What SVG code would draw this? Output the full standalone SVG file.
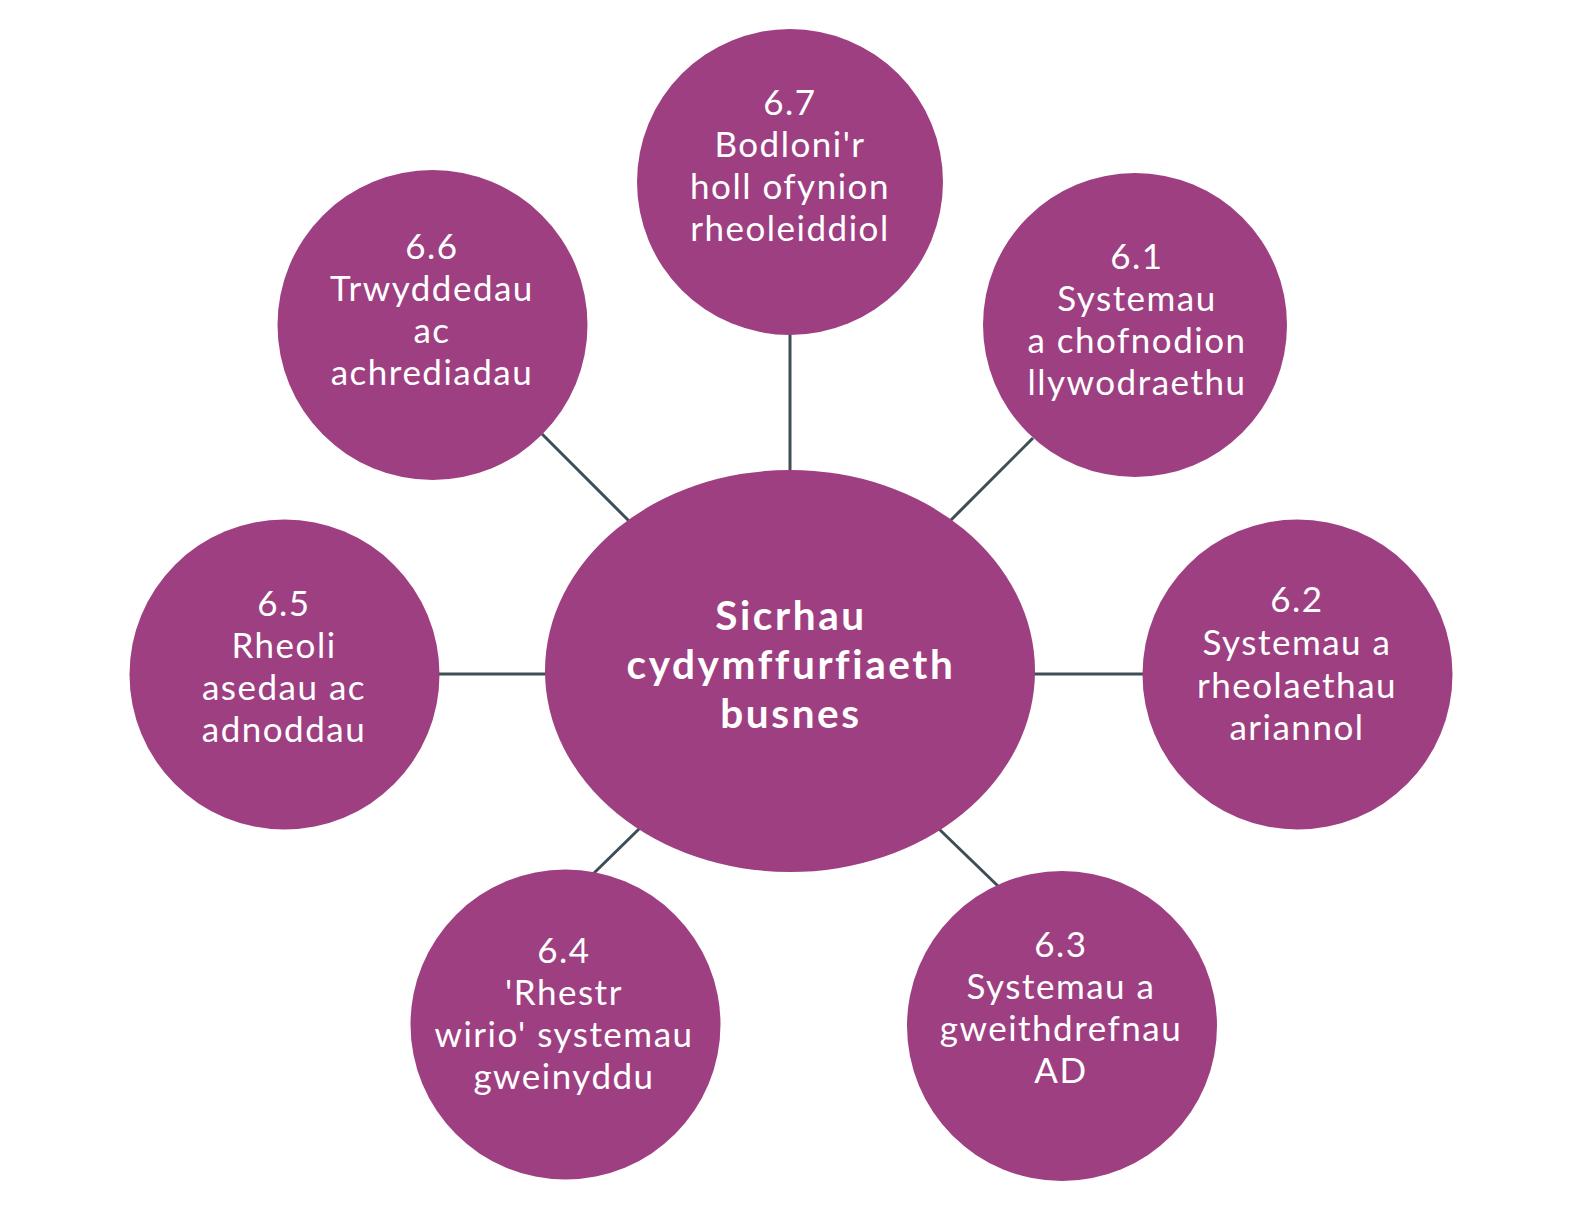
<svg xmlns="http://www.w3.org/2000/svg" width="1571" height="1223" viewBox="0 0 1571 1223">
<style>
.n{fill:#9E3F82}
.t{font-family:Lato,"Open Sans","Liberation Sans",sans-serif;font-size:35px;fill:#fff;text-anchor:middle;letter-spacing:1.5px}
.b{font-family:Lato,"Open Sans","Liberation Sans",sans-serif;font-size:40.5px;font-weight:700;fill:#fff;text-anchor:middle;letter-spacing:2.6px}
.c{stroke:#3E4E57;stroke-width:3;fill:none}
</style>
<rect width="1571" height="1223" fill="#fff"/>
<g id="connectors" class="c">
<line x1="790" y1="334" x2="790" y2="472"/>
<line x1="1033" y1="438" x2="950" y2="521"/>
<line x1="1034" y1="674" x2="1143" y2="674"/>
<line x1="939" y1="829" x2="999" y2="887"/>
<line x1="640" y1="828" x2="593" y2="874"/>
<line x1="439" y1="674" x2="547" y2="674"/>
<line x1="542" y1="434" x2="629" y2="521"/>
</g>
<g id="center">
<ellipse class="n" cx="790" cy="671" rx="245" ry="201"/>
<text class="b"><tspan x="791" y="630">Sicrhau</tspan><tspan x="791" y="679">cydymffurfiaeth</tspan><tspan x="791" y="728">busnes</tspan></text>
</g>
<g id="node-6-7">
<circle class="n" cx="790" cy="182" r="153"/>
<text class="t"><tspan x="790" y="115">6.7</tspan><tspan x="790" y="157">Bodloni'r</tspan><tspan x="790" y="199">holl ofynion</tspan><tspan x="790" y="241">rheoleiddiol</tspan></text>
</g>
<g id="node-6-1">
<circle class="n" cx="1135" cy="325" r="152"/>
<text class="t"><tspan x="1137" y="269">6.1</tspan><tspan x="1137" y="311">Systemau</tspan><tspan x="1137" y="353">a chofnodion</tspan><tspan x="1137" y="395">llywodraethu</tspan></text>
</g>
<g id="node-6-2">
<circle class="n" cx="1297.5" cy="674.5" r="155"/>
<text class="t"><tspan x="1297" y="612">6.2</tspan><tspan x="1297" y="655">Systemau a</tspan><tspan x="1297" y="698">rheolaethau</tspan><tspan x="1297" y="740">ariannol</tspan></text>
</g>
<g id="node-6-3">
<circle class="n" cx="1062" cy="1026" r="155"/>
<text class="t"><tspan x="1061" y="957">6.3</tspan><tspan x="1061" y="999">Systemau a</tspan><tspan x="1061" y="1041">gweithdrefnau</tspan><tspan x="1061" y="1083">AD</tspan></text>
</g>
<g id="node-6-4">
<circle class="n" cx="565.5" cy="1024.5" r="155"/>
<text class="t"><tspan x="564" y="963">6.4</tspan><tspan x="564" y="1005">'Rhestr</tspan><tspan x="564" y="1047">wirio' systemau</tspan><tspan x="564" y="1089">gweinyddu</tspan></text>
</g>
<g id="node-6-5">
<circle class="n" cx="284.5" cy="674.5" r="155"/>
<text class="t"><tspan x="284" y="616">6.5</tspan><tspan x="284" y="658">Rheoli</tspan><tspan x="284" y="700">asedau ac</tspan><tspan x="284" y="742">adnoddau</tspan></text>
</g>
<g id="node-6-6">
<circle class="n" cx="432.5" cy="325" r="155"/>
<text class="t"><tspan x="432" y="259">6.6</tspan><tspan x="432" y="301">Trwyddedau</tspan><tspan x="432" y="343">ac</tspan><tspan x="432" y="385">achrediadau</tspan></text>
</g>
</svg>
